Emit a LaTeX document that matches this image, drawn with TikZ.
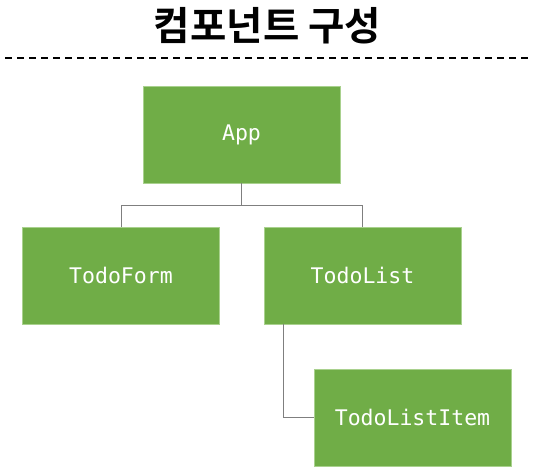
\documentclass[tikz,border=0pt]{standalone}
\usepackage{fontspec}
\newfontfamily\krfont{Noto Sans CJK KR}[BoldFont={* Bold}]
\setmonofont{DejaVu Sans Mono}
\definecolor{boxgreen}{HTML}{70AD47}
\definecolor{boxedge}{HTML}{A9D18E}
\definecolor{linegray}{HTML}{7F7F7F}
\begin{document}
\begin{tikzpicture}[x=1pt,y=-1pt,
  comp/.style={draw=boxedge,line width=0.8pt,fill=boxgreen,minimum width=197pt,minimum height=97pt,
    inner sep=0pt,text=white,font=\ttfamily\fontsize{21.5}{26}\selectfont},
  link/.style={draw=linegray,line width=1pt}]
\useasboundingbox (0,0) rectangle (535,475);
\node[font=\krfont\bfseries\fontsize{39.5}{42}\selectfont] (title) at (267.5,26) {컴포넌트 구성};
\coordinate (dl) at (5,58);
\coordinate (dr) at (532,58);
\draw[line width=1.2pt,dash pattern=on 7pt off 5pt] (dl) -- (dr);
\node[comp] (app) at (241.5,134.5) {App};
\node[comp] (form) at (121,275.5) {TodoForm};
\node[comp] (list) at (362.5,275.5) {TodoList};
\node[comp] (item) at (412.5,417.5) {TodoListItem};
\draw[link] (app.south) -- ++(0,22) -| (form.north);
\draw[link] (app.south) ++(0,22) -| (list.north);
\draw[link] (list.south -| 283,0) |- (item.west);
\end{tikzpicture}
\end{document}
